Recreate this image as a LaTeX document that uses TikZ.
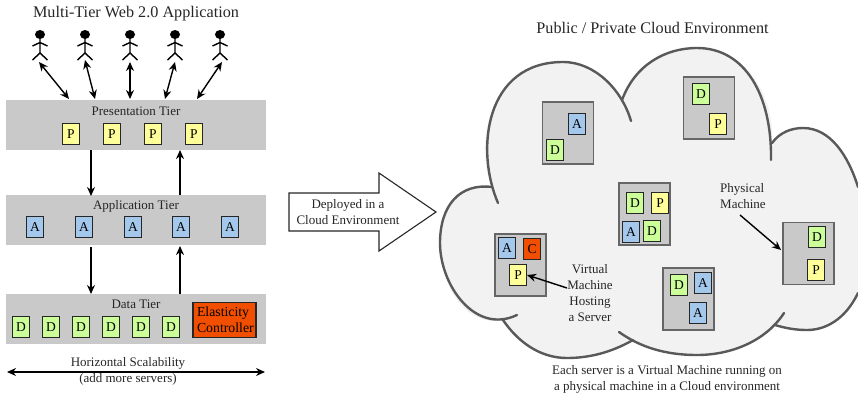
\documentclass[tikz,border=0pt]{standalone}
\usepackage{fontspec}
\setmainfont{Liberation Serif}
\usetikzlibrary{arrows.meta,shapes.geometric}
\definecolor{tiergray}{HTML}{C9C9C9}
\definecolor{cloudfill}{HTML}{F2F2F2}
\definecolor{cloudline}{HTML}{595959}
\definecolor{pcol}{HTML}{FFFF99}
\definecolor{acol}{HTML}{A4C8EC}
\definecolor{dcol}{HTML}{CCFF99}
\definecolor{ccol}{HTML}{F24E00}
\tikzset{
  x=1pt,y=-1pt,
  txt/.style={font=\fontsize{13}{16}\selectfont,text=black!85,inner sep=0pt},
  bigtxt/.style={font=\fontsize{16.2}{19}\selectfont,text=black!85,inner sep=0pt},
  tier/.style={fill=tiergray,draw=none,minimum width=260pt,minimum height=50pt,inner sep=0pt},
  srv/.style={draw=black!85,line width=1.1pt,minimum width=17pt,minimum height=21pt,inner sep=0pt,font=\fontsize{13.5}{16}\selectfont},
  P/.style={srv,fill=pcol},
  A/.style={srv,fill=acol},
  D/.style={srv,fill=dcol},
  C/.style={srv,fill=ccol},
  pm/.style={fill=tiergray,draw=black!60,line width=1.1pt,minimum width=51pt,minimum height=62pt,inner sep=0pt},
  dbl/.style={line width=1.4pt,{Stealth[length=9pt,width=8pt]}-{Stealth[length=9pt,width=8pt]}},
  one/.style={line width=1.4pt,-{Stealth[length=9pt,width=8pt]}},
  cloudarc/.style={draw=cloudline,line width=2.4pt,line cap=round},
  head/.style={ellipse,fill=black,minimum width=10pt,minimum height=9pt,inner sep=0pt},
}
\newcommand{\stick}[2]{%
  \node[head] (#2) at (#1,34.5) {};
  \draw[line width=1.4pt] (#1,36) -- (#1,53) (#1-7.5,46) -- (#1,42.5) -- (#1+7.5,46)
    (#1-7.5,60) -- (#1,53) -- (#1+7.5,60);}
\begin{document}
\begin{tikzpicture}
\useasboundingbox (0,0) rectangle (858,397);
\node[bigtxt] (title1) at (136,14) {Multi-Tier Web 2.0 Application};
\node[bigtxt] (title2) at (652.5,28) {Public / Private Cloud Environment};
% tiers
\node[tier] (pres) at (136,125) {};
\node[tier] (app) at (136,220) {};
\node[tier] (data) at (136,319) {};
\node[txt] (prest) at (136,111) {Presentation Tier};
\node[txt] (appt) at (136,206) {Application Tier};
\node[txt] (datat) at (136,304) {Data Tier};
\foreach \n/\x in {p1/71,p2/112,p3/153,p4/194} \node[P] (\n) at (\x,134) {P};
\foreach \n/\x in {a1/35,a2/84,a3/133,a4/181,a5/230} \node[A] (\n) at (\x,227) {A};
\foreach \n/\x in {d1/21,d2/51,d3/81,d4/111,d5/141,d6/171} \node[D] (\n) at (\x,327) {D};
\node[srv,fill=ccol,font=\fontsize{13.8}{16}\selectfont,minimum width=63pt,minimum height=35pt,align=left,text width=55pt] (ec) at (224.5,320) {Elasticity\\Controller};
% people
\stick{40}{u1}\stick{85}{u2}\stick{130}{u3}\stick{175}{u4}\stick{220}{u5}
\foreach \n/\x/\y/\tx in {e1/39/62/69,e2/85/60/95,e3/130/62/130,e4/175/62/165,e5/222/62/197}{
  \coordinate (\n s) at (\x,\y);
  \coordinate (\n t) at (\tx,99);
  \draw[dbl] (\n s) -- (\n t);
}
% tier arrows
\coordinate (c1) at (91,150); \coordinate (c2) at (91,196);
\coordinate (c3) at (180,195); \coordinate (c4) at (180,150);
\coordinate (c5) at (91,247); \coordinate (c6) at (91,294);
\coordinate (c7) at (180,294); \coordinate (c8) at (180,246);
\draw[one] (c1) -- (c2);
\draw[one] (c3) -- (c4);
\draw[one] (c5) -- (c6);
\draw[one] (c7) -- (c8);
% scalability
\coordinate (h1) at (7,372); \coordinate (h2) at (265,372);
\draw[dbl] (h1) -- (h2);
\node[txt] (ht) at (128,363) {Horizontal Scalability};
\node[txt] (ht2) at (128,379) {(add more servers)};
% big arrow
\draw[draw=black!85,line width=1.1pt,fill=white] (289,193) -- (379,193) -- (379,173) -- (436,212) -- (379,251) -- (379,231) -- (289,231) -- cycle;
\node[txt,align=center] (dep) at (348,212) {Deployed in a\\Cloud Environment};
% cloud
\fill[cloudfill] (492,187)
  .. controls (475,150) and (485,62) .. (563,62)
  .. controls (590,62) and (610,80) .. (622,100)
  .. controls (635,65) and (665,48) .. (697,48)
  .. controls (745,48) and (775,95) .. (772,143)
  .. controls (780,132) and (792,128) .. (803,128)
  .. controls (830,128) and (848,155) .. (858,185)
  -- (858,295)
  .. controls (845,320) and (825,330) .. (807,330)
  .. controls (795,330) and (785,328) .. (775,325)
  .. controls (755,345) and (725,355) .. (697,355)
  .. controls (670,355) and (650,350) .. (633,340)
  .. controls (612,352) and (590,358) .. (567,358)
  .. controls (540,358) and (518,342) .. (503,320)
  .. controls (465,328) and (440,285) .. (440,243)
  .. controls (440,205) and (460,183) .. (492,187) -- cycle;
\draw[cloudarc] (498,203) .. controls (475,150) and (485,62) .. (563,62)
  .. controls (595,62) and (622,90) .. (631,121);
\draw[cloudarc] (622,100) .. controls (635,65) and (665,48) .. (697,48)
  .. controls (745,48) and (772,95) .. (771,160);
\draw[cloudarc] (772,143) .. controls (780,132) and (792,128) .. (803,128)
  .. controls (830,128) and (848,155) .. (858,187);
\draw[cloudarc] (858,293) .. controls (845,320) and (825,330) .. (807,330)
  .. controls (795,330) and (785,328) .. (775,325);
\draw[cloudarc] (784,313) .. controls (765,342) and (730,355) .. (697,355)
  .. controls (665,355) and (640,347) .. (619,332);
\draw[cloudarc] (633,340) .. controls (612,352) and (590,358) .. (567,358)
  .. controls (540,358) and (518,342) .. (503,320);
\draw[cloudarc] (517,315) .. controls (475,335) and (440,285) .. (440,243)
  .. controls (440,205) and (460,183) .. (492,187);
% machines
\node[pm] (m1) at (568,133) {};
\node[A] (m1a) at (577,124) {A};
\node[D] (m1d) at (555,150) {D};
\node[pm] (m2) at (709,108) {};
\node[D] (m2d) at (701,94) {D};
\node[P] (m2p) at (718,124) {P};
\node[pm] (m3) at (644.5,214) {};
\node[D] (m3d) at (635,203) {D};
\node[P] (m3p) at (660,203) {P};
\node[A] (m3a) at (631,232) {A};
\node[D] (m3e) at (652,231) {D};
\node[pm] (m4) at (520.5,265) {};
\node[A] (m4a) at (507,248) {A};
\node[C] (m4c) at (532,249) {C};
\node[P] (m4p) at (518,275) {P};
\node[pm] (m5) at (688.5,299) {};
\node[D] (m5d) at (679,285) {D};
\node[A] (m5a) at (703,283) {A};
\node[A] (m5b) at (698,313) {A};
\node[pm] (m6) at (808.5,253.5) {};
\node[D] (m6d) at (817,237) {D};
\node[P] (m6p) at (816,270) {P};
% labels
\node[txt,align=left,anchor=west] (phys) at (720,196.5) {Physical\\Machine};
\node[txt,align=center] (vm) at (590,293) {Virtual\\Machine\\Hosting\\a Server};
\coordinate (pa) at (740,215);
\coordinate (pb) at (781,250);
\draw[one] (pa) -- (pb);
\coordinate (va) at (567,288);
\draw[one] (va) -- (m4p.east);
\node[txt,align=center] (b) at (667,379) {Each server is a Virtual Machine running on\\a physical machine in a Cloud environment};
\end{tikzpicture}
\end{document}
